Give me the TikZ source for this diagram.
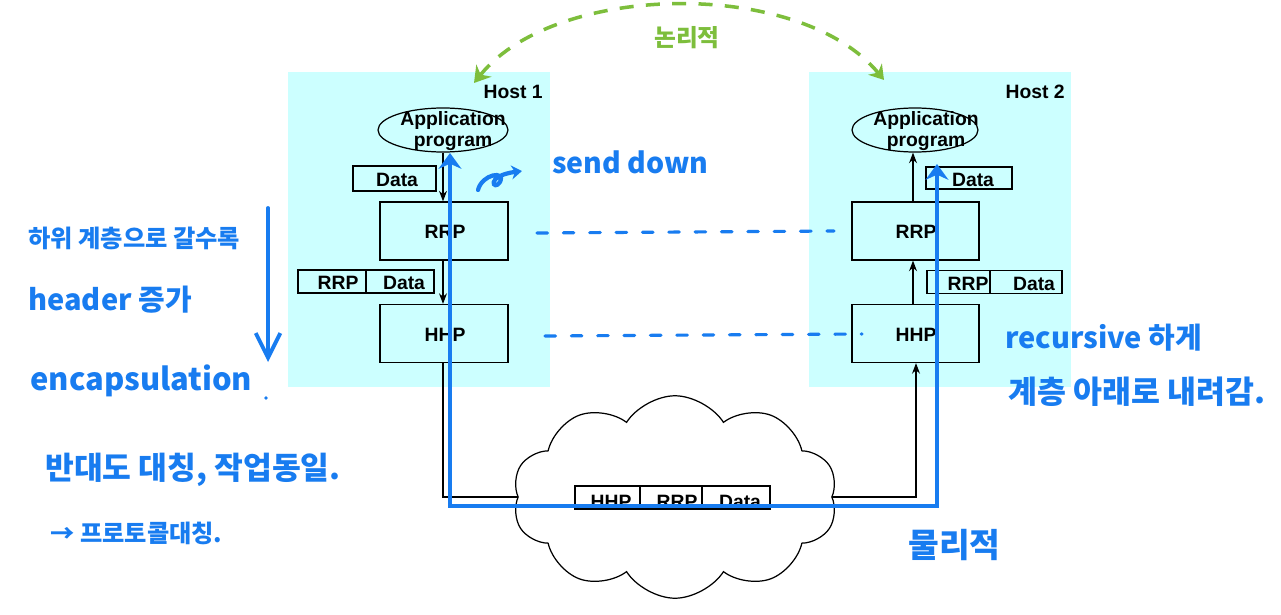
\documentclass[tikz,border=0pt]{standalone}
\usepackage{fontspec}
\setmainfont{Liberation Sans}
\newfontfamily\kr{Noto Sans CJK KR}
\usetikzlibrary{shapes.geometric,shapes.symbols,arrows.meta}
\definecolor{hostbg}{HTML}{CCFFFF}
\definecolor{pen}{RGB}{24,124,240}
\definecolor{gpen}{RGB}{125,190,60}
\tikzset{
  lbl/.style={inner sep=0pt, font=\bfseries\fontsize{11}{11.5}\selectfont},
  layerbox/.style={draw=black, line width=0.7pt, minimum width=2.56cm, minimum height=1.16cm, inner sep=0pt},
  cellbox/.style={draw=black, line width=0.7pt, minimum height=0.46cm, inner sep=0pt},
  appell/.style={ellipse, draw=black, line width=0.7pt, minimum width=2.6cm, minimum height=0.88cm, inner sep=0pt},
  flow/.style={line width=0.7pt, -{Stealth[length=6pt,width=4.5pt]}},
  hand/.style={text=pen, inner sep=0pt, anchor=west},
  penline/.style={draw=pen, line width=2.8pt},
  pendash/.style={draw=pen, line width=1.8pt, line cap=round, dash pattern=on 6pt off 9pt},
}
\begin{document}
\begin{tikzpicture}[x=0.02cm, y=-0.02cm]
\useasboundingbox (0,0) rectangle (1281,615);
\fill[white] (0,0) rectangle (1281,615);
% host backgrounds
\fill[hostbg] (288,72) rectangle (550,387);
\fill[hostbg] (809,72) rectangle (1071,387);
\node[lbl, anchor=east] (h1title) at (543,92) {Host 1};
\node[lbl, anchor=east] (h2title) at (1065,92) {Host 2};
% host 1
\node[appell] (h1app) at (443,130) {};
\node[lbl, align=center] (h1apptxt) at (453,131) {Application\\program};
\node[cellbox, minimum width=1.66cm, minimum height=0.5cm] (h1data) at (394.5,178.5) {};
\node[lbl] at (397,180) {Data};
\node[layerbox] (h1rrp) at (444,231) {};
\node[lbl] at (445,232) {RRP};
\node[cellbox, minimum width=1.36cm] (h1c1) at (332,281.5) {};
\node[cellbox, minimum width=1.36cm] (h1c2) at (400,281.5) {};
\node[lbl] at (338,283) {RRP};
\node[lbl] at (404,283) {Data};
\node[layerbox] (h1hhp) at (444,333.5) {};
\node[lbl] at (445,335) {HHP};
% host 2
\node[appell, minimum width=2.52cm] (h2app) at (915,130) {};
\node[lbl, align=center] (h2apptxt) at (926,131) {Application\\program};
\node[cellbox, minimum width=1.72cm, minimum height=0.44cm] (h2data) at (969,178) {};
\node[lbl] at (973,180) {Data};
\node[layerbox, minimum width=2.54cm] (h2rrp) at (915.5,231) {};
\node[lbl] at (916,232) {RRP};
\node[cellbox, minimum width=1.26cm] (h2c1) at (958.5,282) {};
\node[cellbox, minimum width=1.44cm] (h2c2) at (1026,282) {};
\node[lbl] at (968,284) {RRP};
\node[lbl] at (1034,284) {Data};
\node[layerbox, minimum width=2.54cm] (h2hhp) at (915.5,333.5) {};
\node[lbl] at (916,335) {HHP};
% cloud
\node[cloud, draw=black, fill=white, line width=0.7pt, cloud puffs=10, cloud puff arc=115,
      cloud ignores aspect, minimum width=6.5cm, minimum height=4.05cm] (net) at (675,497) {};
\node[cellbox, minimum width=1.3cm] (pk1) at (607.5,497.5) {};
\node[cellbox, minimum width=1.24cm] (pk2) at (671,497.5) {};
\node[cellbox, minimum width=1.36cm] (pk3) at (736,497.5) {};
\node[lbl] at (611,502) {HHP};
\node[lbl] at (677,502) {RRP};
\node[lbl] at (740,502) {Data};
% black flows
\coordinate (h1down) at (443,497);
\coordinate (h2up) at (916,497);
\draw[flow] (h1app.south -| h1down) -- (h1rrp.north -| h1down);
\draw[flow] (h1rrp.south -| h1down) -- (h1hhp.north -| h1down);
\draw[line width=0.7pt] (h1hhp.south -| h1down) -- (h1down) -- (net.west |- h1down);
\draw[flow] (net.east |- h2up) -- (h2up) -- (h2hhp.south -| h2up);
\draw[flow] (h2hhp.north -| 913,0) -- (h2rrp.south -| 913,0);
\draw[flow] (h2rrp.north -| 913,0) -- (h2app.south -| 913,0);
% blue physical path
\coordinate (b1) at (450,153);
\coordinate (b2) at (450,506);
\coordinate (b3) at (937,506);
\coordinate (b4) at (937,164);
\draw[penline, {Stealth[length=9pt,width=13pt]}-{Stealth[length=9pt,width=13pt]}] (b1) -- (b2) -- (b3) -- (b4);
% blue dashed peer lines
\coordinate (d1a) at (537,233);
\coordinate (d1b) at (834,231);
\coordinate (d2a) at (545,336);
\coordinate (d2b) at (862,334);
\draw[pendash] (d1a) -- (d1b);
\draw[pendash] (d2a) -- (d2b);
% green logical arc
\coordinate (g1) at (474,83);
\coordinate (g2) at (884,80);
\draw[gpen, line width=2pt, dash pattern=on 8pt off 7pt, {Stealth[length=9pt,width=11pt]}-{Stealth[length=8pt,width=10pt]}]
  (g1) .. controls (555,-18) and (800,-22) .. (g2);
\node[text=gpen, inner sep=0pt, font=\kr\bfseries\fontsize{13.5}{14}\selectfont] (logic) at (687,38) {논리적};
% left annotations
\node[hand, font=\kr\bfseries\fontsize{13.8}{15}\selectfont] (n1) at (28,238) {하위 계층으로 갈수록};
\node[hand, font=\kr\bfseries\fontsize{16.5}{18}\selectfont] (n2) at (28,300) {header 증가};
\node[hand, font=\kr\bfseries\fontsize{17.6}{19}\selectfont] (n3) at (30,381) {encapsulation};
\fill[pen] (266,398) circle (1.8);
\coordinate (ar1) at (268,208);
\coordinate (ar2) at (268,362);
\draw[penline, line width=2.2pt, line cap=round, -{Straight Barb[length=14pt,width=14pt]}] (ar1) -- (ar2);
\node[hand, font=\kr\bfseries\fontsize{17.8}{19}\selectfont] (n4) at (45,470) {반대도 대칭, 작업동일.};
\node[hand, font=\kr\bfseries\fontsize{13.8}{15}\selectfont] (n5) at (50,533) {→ 프로토콜대칭.};
% send down
\coordinate (c1) at (478,190);
\coordinate (c2) at (522,171);
\draw[pen, line width=2.4pt, line cap=round, -{Stealth[length=6pt,width=8pt]}]
  (c1) .. controls (482,174) and (506,170) .. (500,182) .. controls (494,192) and (484,176) .. (c2);
\node[hand, font=\kr\bfseries\fontsize{16.2}{18}\selectfont] (sd) at (552,162) {send down};
% right annotations
\node[hand, font=\kr\bfseries\fontsize{16.5}{18}\selectfont] (r1) at (1005,338) {recursive 하게};
\node[hand, font=\kr\bfseries\fontsize{17.9}{19}\selectfont] (r2) at (1008,392) {계층 아래로 내려감.};
\node[hand, font=\kr\bfseries\fontsize{19}{20}\selectfont] (phys) at (908,545) {물리적};
\end{tikzpicture}
\end{document}
